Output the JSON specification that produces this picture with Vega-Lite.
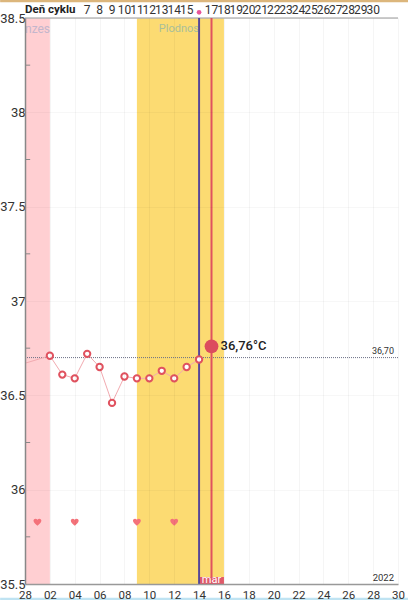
{
"$schema":"https://vega.github.io/schema/vega-lite/v6.json",
"width":373,"height":566,
"autosize":{"type":"none"},
"padding":{"left":25,"top":18,"right":10,"bottom":16},
"background":"white",
"config":{"view":{"stroke":null},"font":"Roboto"},
"datasets":{
"temps":[
{"date":"2022-02-28T00:00:00","temp":36.67,"measured":false},
{"date":"2022-03-02T00:00:00","temp":36.71,"measured":true},
{"date":"2022-03-03T00:00:00","temp":36.61,"measured":true},
{"date":"2022-03-04T00:00:00","temp":36.59,"measured":true},
{"date":"2022-03-05T00:00:00","temp":36.72,"measured":true},
{"date":"2022-03-06T00:00:00","temp":36.65,"measured":true},
{"date":"2022-03-07T00:00:00","temp":36.46,"measured":true},
{"date":"2022-03-08T00:00:00","temp":36.6,"measured":true},
{"date":"2022-03-09T00:00:00","temp":36.59,"measured":true},
{"date":"2022-03-10T00:00:00","temp":36.59,"measured":true},
{"date":"2022-03-11T00:00:00","temp":36.63,"measured":true},
{"date":"2022-03-12T00:00:00","temp":36.59,"measured":true},
{"date":"2022-03-13T00:00:00","temp":36.65,"measured":true},
{"date":"2022-03-14T00:00:00","temp":36.69,"measured":true}
],
"cycle":[
{"date":"2022-03-05T00:00:00","n":"7"},{"date":"2022-03-06T00:00:00","n":"8"},{"date":"2022-03-07T00:00:00","n":"9"},
{"date":"2022-03-08T00:00:00","n":"10"},{"date":"2022-03-09T00:00:00","n":"11"},{"date":"2022-03-10T00:00:00","n":"12"},
{"date":"2022-03-11T00:00:00","n":"13"},{"date":"2022-03-12T00:00:00","n":"14"},{"date":"2022-03-13T00:00:00","n":"15"},
{"date":"2022-03-15T00:00:00","n":"17"},{"date":"2022-03-16T00:00:00","n":"18"},{"date":"2022-03-17T00:00:00","n":"19"},
{"date":"2022-03-18T00:00:00","n":"20"},{"date":"2022-03-19T00:00:00","n":"21"},{"date":"2022-03-20T00:00:00","n":"22"},
{"date":"2022-03-21T00:00:00","n":"23"},{"date":"2022-03-22T00:00:00","n":"24"},{"date":"2022-03-23T00:00:00","n":"25"},
{"date":"2022-03-24T00:00:00","n":"26"},{"date":"2022-03-25T00:00:00","n":"27"},{"date":"2022-03-26T00:00:00","n":"28"},
{"date":"2022-03-27T00:00:00","n":"29"},{"date":"2022-03-28T00:00:00","n":"30"}
],
"hearts":[
{"date":"2022-03-01T00:00:00","y":35.83},{"date":"2022-03-04T00:00:00","y":35.83},
{"date":"2022-03-09T00:00:00","y":35.83},{"date":"2022-03-12T00:00:00","y":35.83}
],
"bands":[
{"start":"2022-02-28T00:00:00","end":"2022-03-02T00:00:00","phase":"menzes"},
{"start":"2022-03-09T00:00:00","end":"2022-03-16T00:00:00","phase":"plodnost"}
],
"minor":[{"v":38.25},{"v":37.75},{"v":37.25},{"v":36.75},{"v":36.25},{"v":35.75}]
},
"encoding":{
"x":{"type":"temporal","title":null,"scale":{"domain":[{"year":2022,"month":2,"date":28},{"year":2022,"month":3,"date":30}]},"axis":{
   "orient":"bottom","title":null,"zindex":1,
   "values":[{"year":2022,"month":2,"date":28},{"year":2022,"month":3,"date":2},{"year":2022,"month":3,"date":4},{"year":2022,"month":3,"date":6},{"year":2022,"month":3,"date":8},{"year":2022,"month":3,"date":10},{"year":2022,"month":3,"date":12},{"year":2022,"month":3,"date":14},{"year":2022,"month":3,"date":16},{"year":2022,"month":3,"date":18},{"year":2022,"month":3,"date":20},{"year":2022,"month":3,"date":22},{"year":2022,"month":3,"date":24},{"year":2022,"month":3,"date":26},{"year":2022,"month":3,"date":28},{"year":2022,"month":3,"date":30}],
   "format":"%d","labelFontSize":11.5,"labelColor":"#333333","labelPadding":5,"labelOverlap":false,"labelFlush":false,"ticks":false,
   "domainColor":"#999999","domainWidth":1.5,"grid":true,"gridColor":"#000000","gridOpacity":0.04,"gridWidth":1}},
"y":{"type":"quantitative","title":null,"scale":{"domain":[35.5,38.5],"nice":false,"zero":false},"axis":{"orient":"left","title":null,"zindex":1,"values":[35.5,36,36.5,37,37.5,38,38.5],"format":".1~f","labelFontSize":13,"labelColor":"#333333","labelPadding":0,"ticks":false,"domainColor":"#888888","domainWidth":1.5,"grid":true,"gridColor":"#000000","gridOpacity":0.03,"gridWidth":1}}
},
"layer":[
{"data":{"name":"bands"},"mark":{"type":"rect"},
 "encoding":{"x":{"field":"start","type":"temporal"},
   "x2":{"field":"end"},
   "y":{"datum":35.5},
   "y2":{"datum":38.5},
   "color":{"field":"phase","type":"nominal","legend":null,"scale":{"domain":["menzes","plodnost"],"range":["#ffcfd2","#fcdb72"]}}}},
{"data":{"name":"minor"},"mark":{"type":"rule","color":"#888888","strokeWidth":1},
 "encoding":{"y":{"field":"v","type":"quantitative"},"x":{"datum":{"year":2022,"month":2,"date":28}},"x2":{"datum":{"year":2022,"month":2,"date":28,"hours":10}}}},
{"data":{"values":[{"label":"top"}]},"mark":{"type":"rule","color":"#bbbbbb","strokeWidth":1.5},
 "encoding":{"y":{"datum":38.5},"x":{"datum":{"year":2022,"month":2,"date":28}},"x2":{"datum":{"year":2022,"month":3,"date":30}}}},
{"data":{"values":[{"label":"Plodnos"}]},"mark":{"type":"text","align":"center","baseline":"middle","fontSize":11,"color":"#a9bf9a"},
 "encoding":{"text":{"field":"label"},"x":{"datum":{"year":2022,"month":3,"date":12,"hours":9}},"y":{"datum":38.44}}},
{"data":{"values":[{"label":"nzes"}]},"mark":{"type":"text","align":"left","baseline":"middle","fontSize":12,"color":"#c3b6cc"},
 "encoding":{"text":{"field":"label"},"x":{"datum":{"year":2022,"month":2,"date":28}},"y":{"datum":38.44}}},
{"data":{"values":[{"label":"36,70"}]},"mark":{"type":"rule","color":"#6a6f85","strokeWidth":1,"strokeDash":[1,1]},
 "encoding":{"y":{"datum":36.7},"x":{"datum":{"year":2022,"month":2,"date":28}},"x2":{"datum":{"year":2022,"month":3,"date":30}}}},
{"data":{"values":[{"label":"36,70"}]},"mark":{"type":"text","align":"right","baseline":"middle","fontSize":9,"color":"#333333","dx":-4,"dy":-7},
 "encoding":{"text":{"field":"label"},"x":{"datum":{"year":2022,"month":3,"date":30}},"y":{"datum":36.7}}},
{"data":{"values":[{"label":"2022"}]},"mark":{"type":"text","align":"right","baseline":"middle","fontSize":9.5,"color":"#333333","dx":-4,"dy":-6},
 "encoding":{"text":{"field":"label"},"x":{"datum":{"year":2022,"month":3,"date":30}},"y":{"datum":35.5}}},
{"data":{"values":[{"label":"mar"}]},"mark":{"type":"rect","color":"#e0596a"},
 "encoding":{"x":{"datum":{"year":2022,"month":3,"date":14}},"x2":{"datum":{"year":2022,"month":3,"date":16}},"y":{"datum":35.5},"y2":{"datum":35.537}}},
{"data":{"name":"temps"},"mark":{"type":"line","color":"#f2aab0","strokeWidth":1},
 "encoding":{"x":{"field":"date","type":"temporal"},"y":{"field":"temp","type":"quantitative"}}},
{"data":{"values":[{"label":"ovulation"}]},"mark":{"type":"rule","color":"#5a4a9c","strokeWidth":2},
 "encoding":{"x":{"datum":{"year":2022,"month":3,"date":14}},"y":{"datum":35.5},"y2":{"datum":38.5}}},
{"data":{"values":[{"label":"today"}]},"mark":{"type":"rule","color":"#e0525f","strokeWidth":2},
 "encoding":{"x":{"datum":{"year":2022,"month":3,"date":15}},"y":{"datum":35.5},"y2":{"datum":38.5}}},
{"data":{"values":[{"label":"mar"}]},"mark":{"type":"text","align":"center","baseline":"middle","fontSize":11,"color":"#ffffff"},
 "encoding":{"text":{"field":"label"},"x":{"datum":{"year":2022,"month":3,"date":15}},"y":{"datum":35.52}}},
{"data":{"name":"temps"},"transform":[{"filter":"datum.measured"}],"mark":{"type":"point","filled":true,"fill":"#ffffff","stroke":"#e0525f","strokeWidth":2,"size":40,"opacity":1},
 "encoding":{"x":{"field":"date","type":"temporal"},"y":{"field":"temp","type":"quantitative"}}},
{"data":{"values":[{"date":"2022-03-15T00:00:00","temp":36.76,"label":"36,76°C"}]},"mark":{"type":"point","filled":true,"color":"#dc4c5e","size":190,"opacity":1},
 "encoding":{"x":{"field":"date","type":"temporal"},"y":{"field":"temp","type":"quantitative"}}},
{"data":{"values":[{"date":"2022-03-15T00:00:00","temp":36.76,"label":"36,76°C"}]},"mark":{"type":"text","align":"left","baseline":"middle","fontSize":13,"fontWeight":500,"color":"#222222","dx":9},
 "encoding":{"text":{"field":"label"},"x":{"field":"date","type":"temporal"},"y":{"field":"temp","type":"quantitative"}}},
{"data":{"name":"hearts"},"mark":{"type":"point","filled":true,"color":"#f4727a","size":62,"opacity":1,"shape":"M0,1 C-0.5,0.6 -1,0.2 -1,-0.3 C-1,-0.8 -0.3,-1 0,-0.5 C0.3,-1 1,-0.8 1,-0.3 C1,0.2 0.5,0.6 0,1 Z"},
 "encoding":{"x":{"field":"date","type":"temporal"},"y":{"field":"y","type":"quantitative"}}},
{"data":{"name":"cycle"},"mark":{"type":"text","align":"center","baseline":"middle","fontSize":12,"color":"#333333"},
 "encoding":{"text":{"field":"n"},"x":{"field":"date","type":"temporal"},"y":{"datum":38.54}}},
{"data":{"values":[{"label":"Deň cyklu"}]},"mark":{"type":"text","align":"left","baseline":"middle","fontSize":11.5,"fontWeight":"bold","color":"#222222"},
 "encoding":{"text":{"field":"label"},"x":{"datum":{"year":2022,"month":2,"date":28}},"y":{"datum":38.54}}},
{"data":{"values":[{"label":"marker"}]},"mark":{"type":"point","filled":true,"color":"#e8559a","size":22,"opacity":1},
 "encoding":{"x":{"datum":{"year":2022,"month":3,"date":14}},"y":{"datum":38.53}}},
{"data":{"values":[{"label":"top strip"}]},"mark":{"type":"rect","color":"#dcb67c"},
 "encoding":{"x":{"datum":{"year":2022,"month":2,"date":26}},"x2":{"datum":{"year":2022,"month":3,"date":31}},"y":{"datum":38.595},"y2":{"datum":38.583}}},
{"data":{"values":[{"label":"bottom strip"}]},"mark":{"type":"rect","color":"#bfe3f2"},
 "encoding":{"x":{"datum":{"year":2022,"month":2,"date":26}},"x2":{"datum":{"year":2022,"month":3,"date":31}},"y":{"datum":35.427},"y2":{"datum":35.415}}}
]
}
